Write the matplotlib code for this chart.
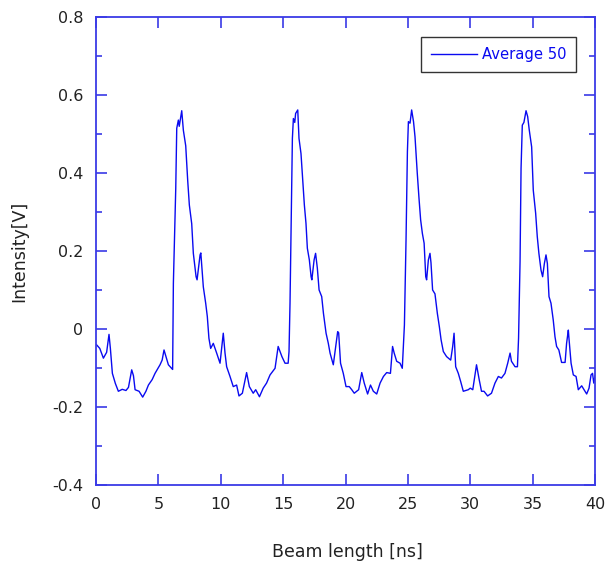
import matplotlib
matplotlib.use("Agg")
import matplotlib.pyplot as plt
from matplotlib.ticker import MultipleLocator

plt.rcParams["font.family"] = ["DejaVu Sans"]

# --- data (time in ns, intensity in V) ---
TIME_NS = [
    0.0, 0.05, 0.3, 0.59, 0.85, 1.04, 1.15, 1.31, 1.55, 1.79, 2.1, 2.4, 2.6, 2.86, 3.0,
    3.13, 3.45, 3.74, 4.0, 4.2, 4.5, 4.73, 5.13, 5.3, 5.45, 5.6, 5.8, 6.14,
    6.2, 6.3, 6.39, 6.47, 6.6, 6.67, 6.87, 7.0, 7.19, 7.35, 7.48, 7.67, 7.8, 8.02,
    8.1, 8.34, 8.4, 8.6, 8.79, 8.92, 9.05, 9.19, 9.4, 9.67, 9.94, 10.2, 10.34,
    10.47, 10.74, 11.0, 11.27, 11.46, 11.73, 12.07, 12.29, 12.6, 12.8, 13.1, 13.4,
    13.67, 13.95, 14.35, 14.6, 14.9, 15.15, 15.4, 15.47, 15.55, 15.65, 15.74, 15.82,
    15.93, 16.0, 16.17, 16.27, 16.43, 16.56, 16.7, 16.83, 16.94, 17.1, 17.24, 17.3,
    17.48, 17.6, 17.74, 17.88, 18.09, 18.23, 18.44, 18.62, 18.76, 19.02, 19.21,
    19.37, 19.45, 19.6, 19.82, 20.04, 20.3, 20.5, 20.7, 21.05, 21.3, 21.5, 21.77,
    22.0, 22.23, 22.5, 22.77, 23.04, 23.3, 23.6, 23.77, 23.9, 24.1, 24.37, 24.55,
    24.72, 24.85, 24.96, 25.04, 25.17, 25.3, 25.45, 25.57, 25.75, 25.89, 26.02,
    26.16, 26.3, 26.43, 26.5, 26.64, 26.77, 26.85, 26.98, 27.17, 27.36, 27.52,
    27.66, 27.84, 28.1, 28.43, 28.59, 28.7, 28.83, 29.04, 29.23, 29.44, 29.84,
    30.0, 30.2, 30.5, 30.72, 30.9, 31.1, 31.39, 31.7, 31.98, 32.25, 32.5, 32.78,
    33.0, 33.19, 33.3, 33.59, 33.78, 33.87, 33.99, 34.07, 34.17, 34.3, 34.47, 34.6,
    34.73, 34.92, 35.05, 35.24, 35.37, 35.5, 35.67, 35.8, 35.94, 36.07, 36.18,
    36.31, 36.47, 36.65, 36.79, 36.92, 37.1, 37.32, 37.6, 37.72, 37.86, 37.9,
    38.08, 38.26, 38.48, 38.66, 38.93, 39.1, 39.33, 39.52, 39.68, 39.8, 39.9, 40.0,
]
INTENSITY_V = [
    -0.04, -0.041, -0.05, -0.075, -0.06, -0.014, -0.05, -0.114, -0.14, -0.16, -0.155, -0.158, -0.15, -0.105, -0.12,
    -0.156, -0.16, -0.175, -0.16, -0.144, -0.13, -0.114, -0.092, -0.08, -0.054, -0.07, -0.092, -0.104,
    0.117, 0.25, 0.36, 0.515, 0.536, 0.52, 0.56, 0.51, 0.47, 0.38, 0.318, 0.27, 0.194, 0.134,
    0.126, 0.19, 0.195, 0.108, 0.066, 0.032, -0.024, -0.05, -0.037, -0.062, -0.088, -0.011, -0.062,
    -0.097, -0.122, -0.148, -0.144, -0.172, -0.165, -0.112, -0.148, -0.165, -0.156, -0.174, -0.152,
    -0.139, -0.118, -0.101, -0.045, -0.071, -0.088, -0.088, -0.058, 0.066, 0.297, 0.489, 0.54,
    0.53, 0.553, 0.562, 0.489, 0.45, 0.386, 0.318, 0.271, 0.207, 0.177, 0.134, 0.126,
    0.177, 0.194, 0.156, 0.1, 0.083, 0.04, -0.011, -0.037, -0.062, -0.092, -0.045,
    -0.007, -0.01, -0.088, -0.114, -0.148, -0.148, -0.156, -0.165, -0.156, -0.112, -0.139, -0.167,
    -0.144, -0.16, -0.167, -0.139, -0.122, -0.112, -0.114, -0.045, -0.062, -0.083, -0.088, -0.101,
    0.01, 0.228, 0.455, 0.532, 0.528, 0.562, 0.532, 0.493, 0.4, 0.335, 0.28,
    0.245, 0.22, 0.134, 0.126, 0.177, 0.194, 0.17, 0.1, 0.09, 0.04, 0.006,
    -0.028, -0.058, -0.071, -0.08, -0.045, -0.011, -0.097, -0.114, -0.135, -0.16, -0.156,
    -0.152, -0.156, -0.092, -0.131, -0.16, -0.16, -0.172, -0.165, -0.139, -0.122, -0.126, -0.114,
    -0.088, -0.062, -0.083, -0.097, -0.097, -0.024, 0.173, 0.412, 0.523, 0.53, 0.56, 0.545,
    0.51, 0.467, 0.356, 0.297, 0.237, 0.194, 0.151, 0.134, 0.168, 0.19, 0.168,
    0.083, 0.066, 0.023, -0.02, -0.045, -0.054, -0.086, -0.086, -0.037, -0.003, -0.02,
    -0.088, -0.118, -0.122, -0.156, -0.146, -0.155, -0.167, -0.152, -0.118, -0.114, -0.139, -0.12,
]
Y_TICKS = [-0.4, -0.2, 0, 0.2, 0.4, 0.6, 0.8]
Y_TICK_LABELS = ["-0.4", "-0.2", "0", "0.2", "0.4", "0.6", "0.8"]

AXIS_BLUE = "#3a3ae6"
LINE_BLUE = "#0a0af0"
TEXT_GREY = "#222222"

fig = plt.figure(figsize=(6.14, 5.68), dpi=100)
ax = fig.add_axes([0.1564, 0.1465, 0.8127, 0.8232])

ax.plot(TIME_NS, INTENSITY_V, color=LINE_BLUE, linewidth=1.0, label="Average 50")

ax.set_xlim(0, 40)
ax.set_ylim(-0.4, 0.8)
ax.xaxis.set_major_locator(MultipleLocator(5))
ax.set_yticks(Y_TICKS)
ax.set_yticklabels(Y_TICK_LABELS)
ax.yaxis.set_minor_locator(MultipleLocator(0.1))

for spine in ax.spines.values():
    spine.set_color(AXIS_BLUE)
    spine.set_linewidth(1.3)

ax.tick_params(which="both", direction="in", top=True, right=True,
               color=AXIS_BLUE, width=1.2, labelsize=11.5, labelcolor=TEXT_GREY)
ax.tick_params(which="major", length=8, pad=9)
ax.tick_params(which="minor", length=4)

ax.set_xlabel("Beam length [ns]", fontsize=12.5, color=TEXT_GREY)
ax.set_ylabel("Intensity[V]", fontsize=12.5, color=TEXT_GREY)
ax.xaxis.set_label_coords(0.503, -0.124)
ax.yaxis.set_label_coords(-0.136, 0.5)

leg = ax.legend(loc="upper right", bbox_to_anchor=(0.962, 0.958), borderaxespad=0,
                fontsize=10.6, frameon=True, fancybox=False, handlelength=3.1,
                handletextpad=0.3, borderpad=0.68, labelcolor=LINE_BLUE)
leg.get_frame().set_edgecolor("black")
leg.get_frame().set_linewidth(1.0)

fig.savefig("out.png", dpi=100)
